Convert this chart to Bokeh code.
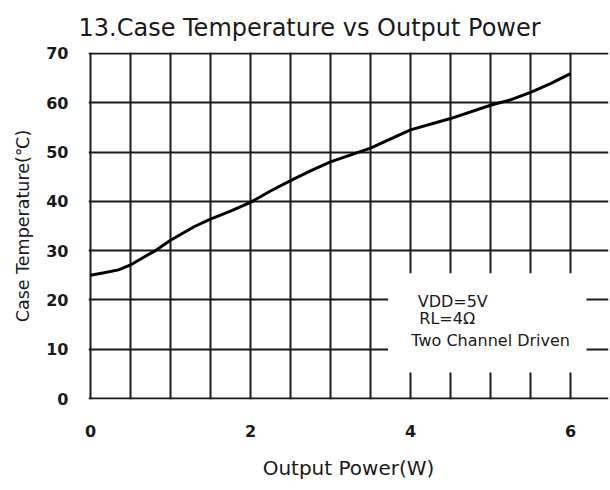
from bokeh.plotting import figure
from bokeh.models import Range1d, FixedTicker, BoxAnnotation, Label
from bokeh.embed import file_html
from bokeh.resources import INLINE

# ---- data ----
power_w = [0, 0.17, 0.35, 0.5, 0.67, 0.8, 1.0, 1.3, 1.5, 1.75, 2.0, 2.25, 2.5,
           2.75, 3.0, 3.5, 4.0, 4.5, 5.0, 5.25, 5.5, 5.75, 6.0]
case_temp_c = [25.0, 25.5, 26.1, 27.1, 28.7, 29.9, 32.1, 34.9, 36.4, 38.0, 39.8,
               42.1, 44.2, 46.2, 48.0, 50.8, 54.5, 56.8, 59.5, 60.6, 62.1, 63.9, 65.9]

x_ticks = [0, 2, 4, 6]
y_ticks = [0, 10, 20, 30, 40, 50, 60, 70]
x_grid = [0, 0.5, 1.0, 1.5, 2.0, 2.5, 3.0, 3.5, 4.0, 4.5, 5.0, 5.5, 6.0]
y_grid = [0, 10, 20, 30, 40, 50, 60, 70]

note_lines = ["VDD=5V", "RL=4\u03a9", "Two Channel Driven"]
note_x = [4.09, 4.11, 4.01]
note_y = [19.7, 16.2, 11.8]
note_box = dict(left=3.72, right=6.2, bottom=5.3, top=25.4)

FONT = "DejaVu Sans"
INK = "#1a1a1a"

p = figure(width=610, height=490, output_backend="svg", toolbar_location=None,
           x_range=Range1d(-0.025, 6.475), y_range=Range1d(-0.2, 70.2),
           min_border_left=88, min_border_right=2, min_border_top=52,
           min_border_bottom=91,
           title="13.Case Temperature vs Output Power")
p.outline_line_color = None
p.background_fill_color = "white"
p.border_fill_color = "white"

p.title.text_font = FONT
p.title.text_font_size = "24px"
p.title.text_font_style = "normal"
p.title.text_color = INK
p.title.align = "left"
p.title.offset = -10
p.title.standoff = 22

# grid
p.xgrid.ticker = FixedTicker(ticks=x_grid)
p.ygrid.ticker = FixedTicker(ticks=y_grid)
for g in (p.xgrid, p.ygrid):
    g.grid_line_color = INK
    g.grid_line_width = 2
    g.grid_line_alpha = 1.0

# axes
p.xaxis.ticker = FixedTicker(ticks=x_ticks)
p.yaxis.ticker = FixedTicker(ticks=y_ticks)
for ax in (p.xaxis[0], p.yaxis[0]):
    ax.axis_line_color = None
    ax.major_tick_line_color = None
    ax.minor_tick_line_color = None
    ax.major_label_text_font = FONT
    ax.major_label_text_font_size = "16px"
    ax.major_label_text_font_style = "bold"
    ax.major_label_text_color = INK
    ax.axis_label_text_font = FONT
    ax.axis_label_text_font_style = "normal"
    ax.axis_label_text_color = INK

p.xaxis.axis_label = "Output Power(W)"
p.xaxis.axis_label_text_font_size = "20px"
p.xaxis.major_label_standoff = 19
p.xaxis.axis_label_standoff = 16

p.yaxis.axis_label = "Case Temperature(\u2103)"
p.yaxis.axis_label_text_font_size = "17.5px"
p.yaxis.major_label_standoff = 14
p.yaxis.axis_label_standoff = 10

# curve
p.line(power_w, case_temp_c, line_color="black", line_width=3, line_join="round")

# condition box (white area that hides the grid)
p.add_layout(BoxAnnotation(fill_color="white", fill_alpha=1.0, line_color=None,
                           **note_box))
for t, x, y in zip(note_lines, note_x, note_y):
    p.add_layout(Label(x=x, y=y, text=t, text_font=FONT, text_font_size="16px",
                       text_color=INK, text_baseline="middle", text_align="left"))

open("out.html", "w").write(file_html(p, INLINE))
